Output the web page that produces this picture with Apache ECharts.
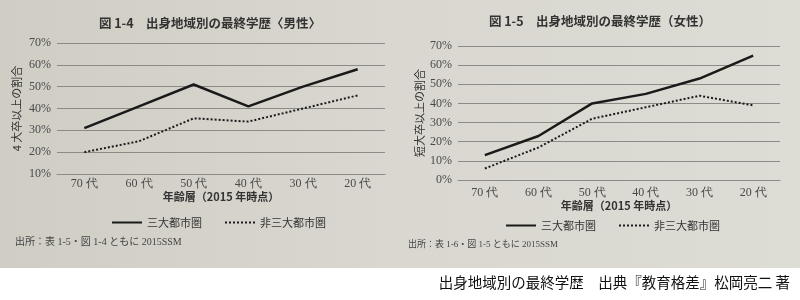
<!DOCTYPE html>
<html><head><meta charset="utf-8">
<script src="https://cdn.jsdelivr.net/npm/echarts@6/dist/echarts.min.js"></script>
<style>html,body{margin:0;padding:0;background:#fff}#c{width:800px;height:300px}</style>
</head><body><div id="c"></div>
<script>
const categories = ['70 代','60 代','50 代','40 代','30 代','20 代'];
const maleUrban = [31, 41, 51, 41, 50, 58];
const maleNonUrban = [20, 25, 35.5, 34, 40, 46];
const femaleUrban = [13, 23, 40, 45, 53, 65];
const femaleNonUrban = [6, 17, 32, 38, 44, 39];
const leftYTicks = {min: 10, max: 70, interval: 10};
const rightYTicks = {min: 0, max: 70, interval: 10};

const chart = echarts.init(document.getElementById('c'));
const serif = 'Liberation Serif';
const jp = 'Noto Sans CJK JP';
const gridColor = '#8c8b86';
function yAxis(idx, t, name, nameGap) {
  return {
    type: 'value', gridIndex: idx, min: t.min, max: t.max, interval: t.interval,
    name: name, nameLocation: 'middle', nameGap: nameGap, nameRotate: 90,
    nameTextStyle: {fontFamily: jp, fontSize: 11, color: '#333'},
    axisLine: {show: false}, axisTick: {show: false},
    axisLabel: {formatter: '{value}%', fontFamily: serif, fontSize: 12, color: '#4a4a4a', margin: 6},
    splitLine: {lineStyle: {color: gridColor, width: 1}}
  };
}
function xAxis(idx, margin, gap) {
  return {
    type: 'category', gridIndex: idx, data: categories, boundaryGap: true,
    name: '年齢層（2015 年時点）', nameLocation: 'middle', nameGap: gap,
    nameTextStyle: {fontFamily: jp, fontSize: 11, color: '#333', fontWeight: 'bold'},
    axisLine: {show: true, lineStyle: {color: gridColor, width: 1}},
    axisTick: {show: false},
    axisLabel: {fontFamily: serif, fontSize: 12, color: '#4a4a4a', margin: margin}
  };
}
function line(name, data, idx, dotted) {
  return {
    type: 'line', name: name, data: data, xAxisIndex: idx, yAxisIndex: idx,
    symbol: 'none', smooth: false,
    lineStyle: {color: '#1a1a1a', width: dotted ? 2 : 2.5, type: dotted ? [2, 2] : 'solid'},
    itemStyle: {color: '#1a1a1a'}
  };
}
const legendBase = {
  itemWidth: 30, itemHeight: 10, itemGap: 22,
  itemStyle: {opacity: 0},
  textStyle: {fontFamily: jp, fontSize: 11, color: '#333'},
  data: ['三大都市圏', '非三大都市圏'], selectedMode: false
};
chart.setOption({
  backgroundColor: {
    type: 'linear', x: 0, y: 0, x2: 1, y2: 0,
    colorStops: [{offset: 0, color: '#cfcdc4'}, {offset: 0.5, color: '#d9d7cf'}, {offset: 1, color: '#dddcd5'}]
  },
  animation: false,
  title: [
    {text: '図 1-4　出身地域別の最終学歴〈男性〉', left: 205, top: 12, textAlign: 'center',
     textStyle: {fontFamily: jp, fontSize: 12.5, fontWeight: 'bold', color: '#333'}},
    {text: '図 1-5　出身地域別の最終学歴（女性）', left: 595, top: 10, textAlign: 'center',
     textStyle: {fontFamily: jp, fontSize: 12.5, fontWeight: 'bold', color: '#333'}}
  ],
  grid: [
    {left: 57, width: 328, top: 43, bottom: 126},
    {left: 458, width: 322, top: 46, bottom: 120}
  ],
  xAxis: [xAxis(0, 4, 13), xAxis(1, 7, 19)],
  yAxis: [yAxis(0, leftYTicks, '4 大卒以上の割合', 35), yAxis(1, rightYTicks, '短大卒以上の割合', 33)],
  legend: [
    Object.assign({}, legendBase, {left: 106, top: 212}),
    Object.assign({}, legendBase, {left: 500, top: 215})
  ],
  series: [
    line('三大都市圏', maleUrban, 0, false),
    line('非三大都市圏', maleNonUrban, 0, true),
    line('三大都市圏', femaleUrban, 1, false),
    line('非三大都市圏', femaleNonUrban, 1, true)
  ],
  graphic: [
    {type: 'text', left: 15, top: 237, style: {text: '出所：表 1-5・図 1-4 ともに 2015SSM', font: '10px "Liberation Serif", "Noto Sans CJK JP", serif', fill: '#444'}},
    {type: 'text', left: 408, top: 240, style: {text: '出所：表 1-6・図 1-5 ともに 2015SSM', font: '9px "Liberation Serif", "Noto Sans CJK JP", serif', fill: '#444'}},
    {type: 'rect', left: 0, top: 268, shape: {width: 800, height: 32}, style: {fill: '#ffffff'}},
    {type: 'text', right: 10, top: 275, style: {text: '出身地域別の最終学歴　出典『教育格差』松岡亮二 著', font: '14.5px "Noto Sans CJK JP", sans-serif', fill: '#111'}}
  ]
});
</script></body></html>
